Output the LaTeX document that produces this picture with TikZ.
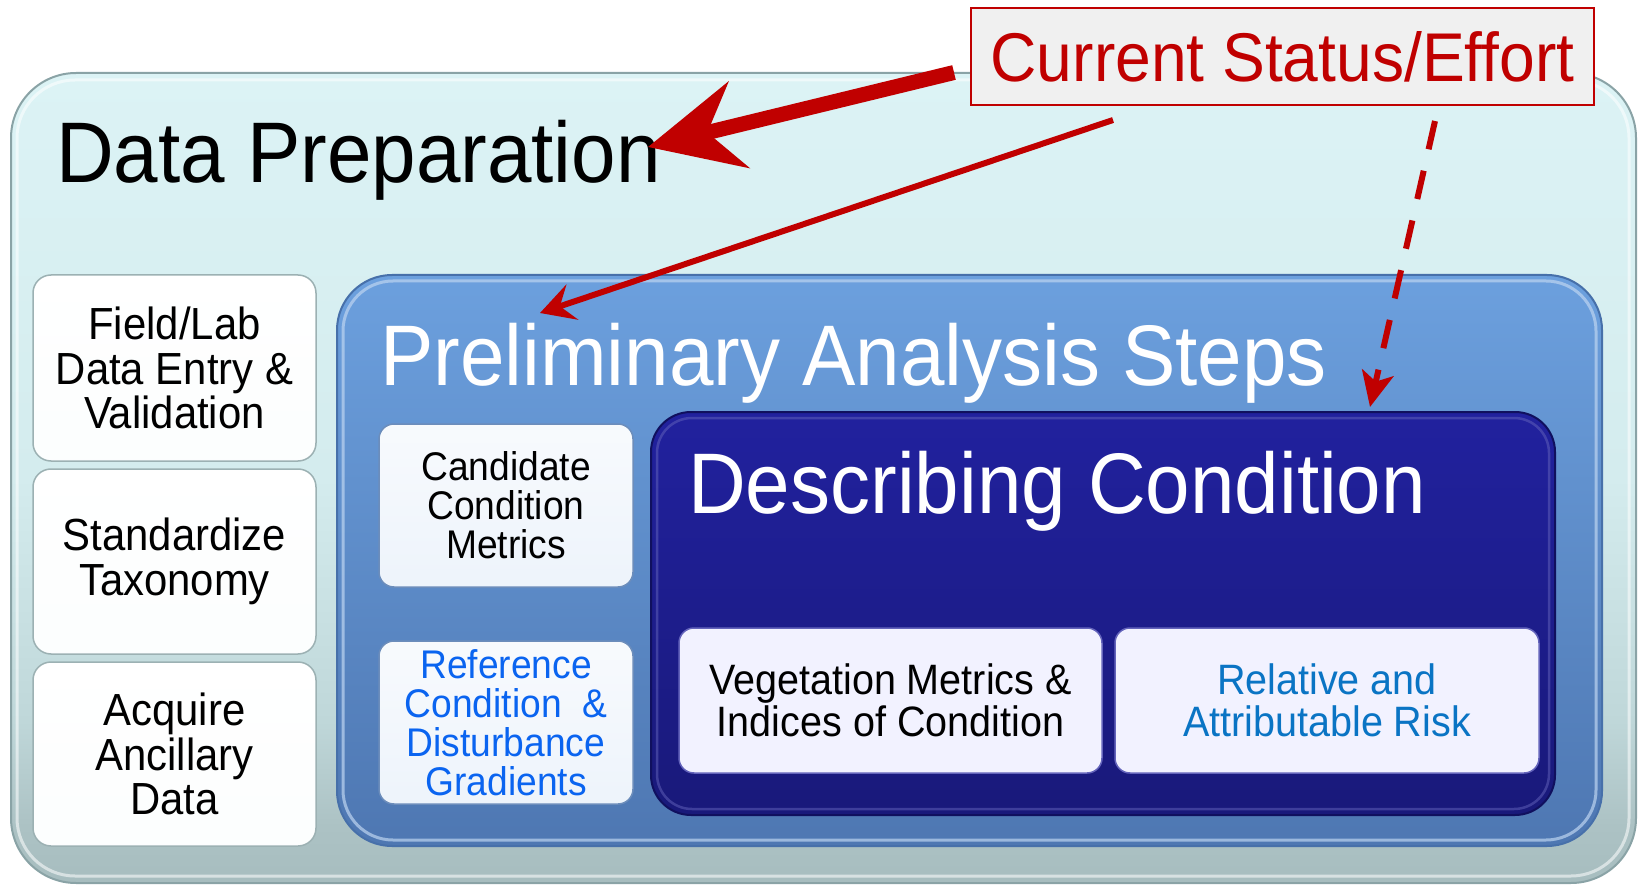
\documentclass[tikz,border=0pt]{standalone}
\usepackage{fontspec}
\setmainfont{Liberation Sans}[FakeStretch=0.93]
\usetikzlibrary{arrows.meta,shadings}
\definecolor{ob0}{HTML}{A7BDBF}
\definecolor{ob1}{HTML}{ACC2C4}
\definecolor{ob1b}{HTML}{BFD7D9}
\definecolor{ob2}{HTML}{D4ECEE}
\definecolor{ob3}{HTML}{DCF3F5}
\definecolor{obord}{HTML}{8AA3A6}
\definecolor{blueTop}{HTML}{6CA0DE}
\definecolor{blueBot}{HTML}{4E77B2}
\definecolor{blueBord}{HTML}{4770AA}
\definecolor{navyTop}{HTML}{21219E}
\definecolor{navyBot}{HTML}{19197A}
\definecolor{navyBord}{HTML}{10105E}
\definecolor{redA}{HTML}{C00000}
\definecolor{refblue}{HTML}{0A64F0}
\definecolor{relblue}{HTML}{0A74C4}
\pgfdeclareverticalshading{outershade}{100bp}{color(0bp)=(ob0); color(25bp)=(ob0); color(28.5bp)=(ob1); color(35bp)=(ob1b); color(50bp)=(ob2); color(75bp)=(ob3); color(100bp)=(ob3)}
\tikzset{
  outerbox/.style={rectangle, rounded corners=65pt, shading=outershade, draw=obord, line width=2pt, inner sep=0pt},
  whitebox/.style={rectangle, rounded corners=18pt, top color=white, bottom color=white!92!ob2, draw=obord!85, line width=1.5pt, align=center, inner sep=0pt, font=\fontsize{45}{44.5}\selectfont, text=black},
  bluebox/.style={rectangle, rounded corners=55pt, top color=blueTop, bottom color=blueBot, draw=blueBord, line width=2pt, inner sep=0pt},
  lightbox/.style={rectangle, rounded corners=15pt, top color=white!95!blueTop, bottom color=white!88!blueTop, draw=blueBord!80, line width=1.5pt, align=center, inner sep=0pt, font=\fontsize{40}{39}\selectfont},
  navybox/.style={rectangle, rounded corners=40pt, top color=navyTop, bottom color=navyBot, draw=navyBord, line width=2pt, inner sep=0pt},
  lavbox/.style={rectangle, rounded corners=15pt, fill=black!3!blue!5!white, draw=navyTop!70, line width=1.5pt, align=center, inner sep=0pt, font=\fontsize{42.5}{42}\selectfont},
  bigtitle/.style={anchor=base west, inner sep=0pt, font=\fontsize{86}{90}\selectfont},
  statusbox/.style={rectangle, fill=black!6, draw=redA, line width=2pt, text=redA, inner sep=0pt, font=\fontsize{69}{72}\selectfont},
  thickred/.style={draw=redA, line width=15pt, -{Stealth[length=93pt, width=88pt, inset=32pt]}},
  thinred/.style={draw=redA, line width=6pt, -{Stealth[length=34pt, width=37pt, inset=13pt]}},
  dashred/.style={draw=redA, line width=6pt, dash pattern=on 29pt off 22pt, -{Stealth[length=35pt, width=32pt, inset=9pt]}}
}
\begin{document}
\begin{tikzpicture}[x=1pt, y=-1pt]
\useasboundingbox (0,0) rectangle (1642,885);
\begin{scope}
\clip (0,0) rectangle (1642,885);
% outer Data Preparation box
\node[outerbox, minimum width=1625pt, minimum height=810pt] (outer) at (823.5,478) {};
\draw[white, opacity=0.55, line width=3pt, rounded corners=58pt] (17,80) rectangle (1629,876);
\node[bigtitle] (dptitle) at (56,183) {Data Preparation};
% left column
\node[whitebox, minimum width=283pt, minimum height=186pt] (b1) at (174.5,368) {Field/Lab\\Data Entry \&\\Validation};
\node[whitebox, minimum width=283pt, minimum height=185pt] (b2) at (174.5,561.5) {Standardize\\Taxonomy};
\node[whitebox, minimum width=283pt, minimum height=184pt] (b3) at (174.5,754) {Acquire\\Ancillary\\Data};
% preliminary analysis box
\node[bluebox, minimum width=1265pt, minimum height=571pt] (prelim) at (969.5,560.5) {};
\draw[white!55!blueTop, opacity=0.7, line width=3pt, rounded corners=50pt] (343,281) rectangle (1596,840);
\node[bigtitle, text=white] (prtitle) at (380,385) {Preliminary Analysis Steps};
\node[lightbox, minimum width=254pt, minimum height=163pt, text=black] (cand) at (506,505.5) {Candidate\\Condition\\Metrics};
\node[lightbox, minimum width=254pt, minimum height=163pt, text=refblue] (ref) at (506,722.5) {Reference\\Condition\ \ \&\\Disturbance\\Gradients};
% describing condition box
\node[navybox, minimum width=904pt, minimum height=403pt] (desc) at (1103,613.5) {};
\draw[navyTop!70!white, opacity=0.5, line width=2.5pt, rounded corners=35pt] (657,418) rectangle (1549,809);
\node[bigtitle, text=white] (dctitle) at (688,513) {Describing Condition};
\node[lavbox, minimum width=423pt, minimum height=145pt, text=black] (veg) at (890.5,700.5) {Vegetation Metrics \&\\Indices of Condition};
\node[lavbox, minimum width=424pt, minimum height=145pt, text=relblue] (rel) at (1327,700.5) {Relative and\\Attributable Risk};
\end{scope}
% status box and arrows
\node[statusbox, minimum width=623pt, minimum height=97pt] (status) at (1282.5,56.5) {Current Status/Effort};
\coordinate (tipA) at (648,147);
\coordinate (tipB) at (540,313);
\coordinate (tipC) at (1370,407);
\path[thickred] ([xshift=-16pt, yshift=-16pt]status.west) -- (tipA);
\path[thinred] ([xshift=143pt, yshift=-14pt]status.south west) -- (tipB);
\path[dashred] ([xshift=465pt, yshift=-15pt]status.south west) -- (tipC);
\end{tikzpicture}
\end{document}
